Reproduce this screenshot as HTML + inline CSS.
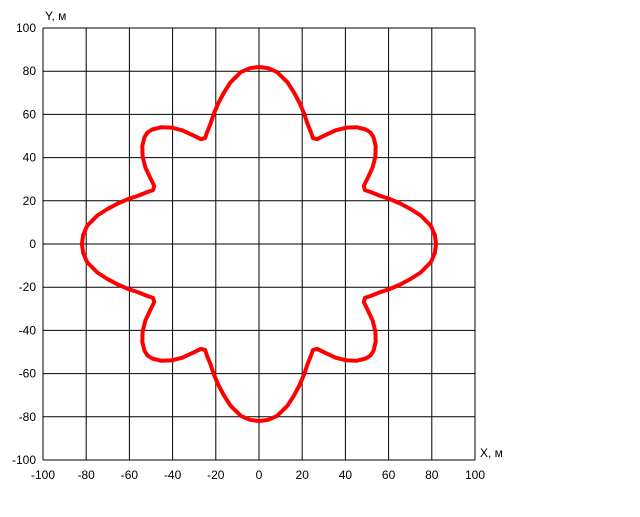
<!DOCTYPE html>
<html><head><meta charset="utf-8"><style>
body{margin:0;background:#fff}
svg text{font-family:"Liberation Sans",sans-serif;font-size:12px;fill:#000}
</style></head><body>
<svg id="chart" width="640" height="512" xmlns="http://www.w3.org/2000/svg">
<g id="grid"></g>
<g id="labels"></g>
<path id="curve" fill="none" stroke="#ff0000" stroke-width="4" stroke-linejoin="round"></path>
<text x="45" y="20">Y, м</text>
<text x="480" y="457">X, м</text>
</svg>
<script>
const ticks = [-100,-80,-60,-40,-20,0,20,40,60,80,100];
const octantAngles = [0,3,6,10,13,16,19,22,25,27,29,31,34,37,40,43,45];
const octantRadii = [82,81.5,80,76,72,68,64,60,57,55,55.5,58.5,63.5,67.5,70.5,72.5,73];
const X0=43,X1=475,Y0=460,Y1=28;
function sx(v){return X0+(v+100)/200*(X1-X0);}
function sy(v){return Y0-(v+100)/200*(Y0-Y1);}
const NS="http://www.w3.org/2000/svg";
const grid=document.getElementById('grid'),labels=document.getElementById('labels');
ticks.forEach(t=>{
  const v=document.createElementNS(NS,'line');
  v.setAttribute('x1',sx(t));v.setAttribute('x2',sx(t));v.setAttribute('y1',Y1);v.setAttribute('y2',Y0);
  v.setAttribute('stroke','#000');v.setAttribute('stroke-width','1');
  
  
  grid.appendChild(v);
  const h=document.createElementNS(NS,'line');
  h.setAttribute('y1',sy(t));h.setAttribute('y2',sy(t));h.setAttribute('x1',X0);h.setAttribute('x2',X1);
  h.setAttribute('stroke','#000');h.setAttribute('stroke-width','1');
  
  
  grid.appendChild(h);
  const tx=document.createElementNS(NS,'text');
  tx.setAttribute('x',sx(t));tx.setAttribute('y',Y0+19);tx.setAttribute('text-anchor','middle');
  tx.textContent=t;
  
  
  labels.appendChild(tx);
  const ty=document.createElementNS(NS,'text');
  ty.setAttribute('x',X0-7);ty.setAttribute('y',sy(t)+4);ty.setAttribute('text-anchor','end');
  ty.textContent=t;
  
  
  labels.appendChild(ty);
});
let angs=[],rads=[];
for(let k=0;k<8;k++){
  const base=k*45;
  const idx=octantAngles.map((a,i)=>i);
  const seq=(k%2===0)?idx:idx.slice().reverse();
  seq.forEach(i=>{
    const a=(k%2===0)?base+octantAngles[i]:base+45-octantAngles[i];
    angs.push(a);rads.push(octantRadii[i]);
  });
}
let d='';
angs.forEach((a,i)=>{
  const r=rads[i],th=a*Math.PI/180;
  d+=(i?'L':'M')+sx(r*Math.cos(th)).toFixed(1)+' '+sy(r*Math.sin(th)).toFixed(1);
});
document.getElementById('curve').setAttribute('d',d+'Z');
</script>
</body></html>
